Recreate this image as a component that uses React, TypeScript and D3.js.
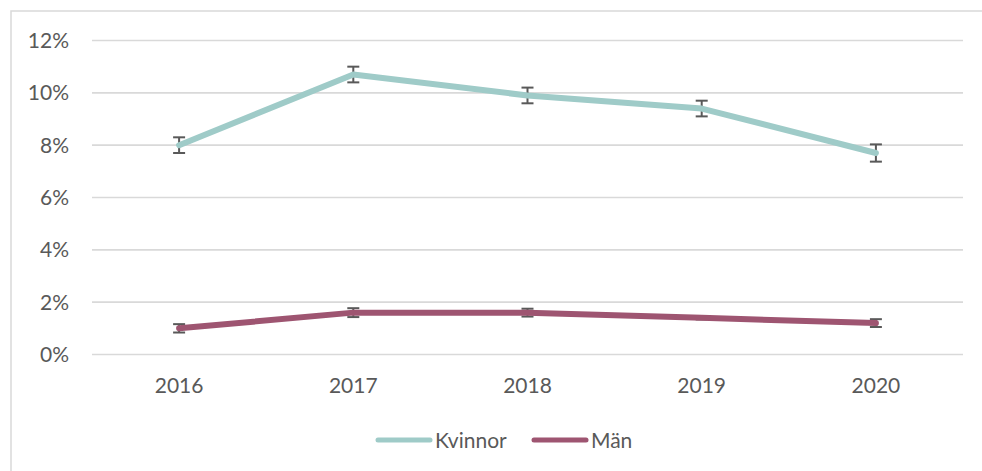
import React from "react";
import * as d3 from "d3";

const years = ["2016", "2017", "2018", "2019", "2020"];
const kvinnor = [8.0, 10.7, 9.9, 9.4, 7.7];
const kvinnorErr = [0.3, 0.3, 0.3, 0.3, 0.33];
const man = [1.0, 1.6, 1.6, 1.4, 1.2];
const manErr = [0.16, 0.17, 0.15, 0.06, 0.15];
const yTicks = [0, 2, 4, 6, 8, 10, 12];
const seriesNames = ["Kvinnor", "Män"];
const seriesColors = ["#9fcbc8", "#9e5571"];

const W = 982;
const H = 471;
const FONT = "Lato, 'Open Sans', sans-serif";
const TEXT = "#595959";

export default function App() {
  const x = d3.scaleBand<string>().domain(years).range([92, 963]);
  const y = d3.scaleLinear().domain([0, 12]).range([354.5, 40.5]);
  const cx = (yr: string) => (x(yr) as number) + x.bandwidth() / 2;

  const line = d3
    .line<number>()
    .x((_, i) => cx(years[i]))
    .y((d) => y(d));

  const series = [
    { name: seriesNames[0], values: kvinnor, err: kvinnorErr, color: seriesColors[0] },
    { name: seriesNames[1], values: man, err: manErr, color: seriesColors[1] },
  ];

  const legendItems = [
    { x0: 376, name: seriesNames[0], color: seriesColors[0] },
    { x0: 532, name: seriesNames[1], color: seriesColors[1] },
  ];

  return (
    <svg
      width={W}
      height={H}
      style={{ position: "absolute", left: 0, top: 0, display: "block", background: "#fff" }}
    >
      <rect x={11} y={11} width={W} height={H} fill="#fff" stroke="#d9d9d9" strokeWidth={1.5} />
      {yTicks.map((t) => (
        <g key={t}>
          <line x1={92} x2={963} y1={y(t)} y2={y(t)} stroke="#d9d9d9" strokeWidth={1.6} />
          <text
            x={69}
            y={y(t)}
            dy="0.36em"
            textAnchor="end"
            fontFamily={FONT}
            fontSize={21}
            fill={TEXT}
          >
            {t}%
          </text>
        </g>
      ))}
      {years.map((yr) => (
        <text
          key={yr}
          x={cx(yr)}
          y={385}
          dy="0.36em"
          textAnchor="middle"
          fontFamily={FONT}
          fontSize={21}
          fill={TEXT}
        >
          {yr}
        </text>
      ))}
      {series.map((s) => (
        <g key={s.name + "err"}>
          {s.values.map((v, i) => {
            const px = cx(years[i]);
            const top = y(v + s.err[i]);
            const bot = y(v - s.err[i]);
            return (
              <g key={i} stroke="#595959" strokeWidth={2}>
                <line x1={px} x2={px} y1={top} y2={bot} />
                <line x1={px - 6} x2={px + 6} y1={top} y2={top} />
                <line x1={px - 6} x2={px + 6} y1={bot} y2={bot} />
              </g>
            );
          })}
        </g>
      ))}
      {series.map((s) => (
        <path
          key={s.name}
          d={line(s.values) as string}
          fill="none"
          stroke={s.color}
          strokeWidth={6}
          strokeLinejoin="round"
          strokeLinecap="round"
        />
      ))}
      {legendItems.map((l) => (
        <g key={l.name}>
          <line
            x1={l.x0 + 2}
            x2={l.x0 + 54}
            y1={440}
            y2={440}
            stroke={l.color}
            strokeWidth={5}
            strokeLinecap="round"
          />
          <text
            x={l.x0 + 59}
            y={440}
            dy="0.36em"
            fontFamily={FONT}
            fontSize={21}
            fill={TEXT}
          >
            {l.name}
          </text>
        </g>
      ))}
    </svg>
  );
}
